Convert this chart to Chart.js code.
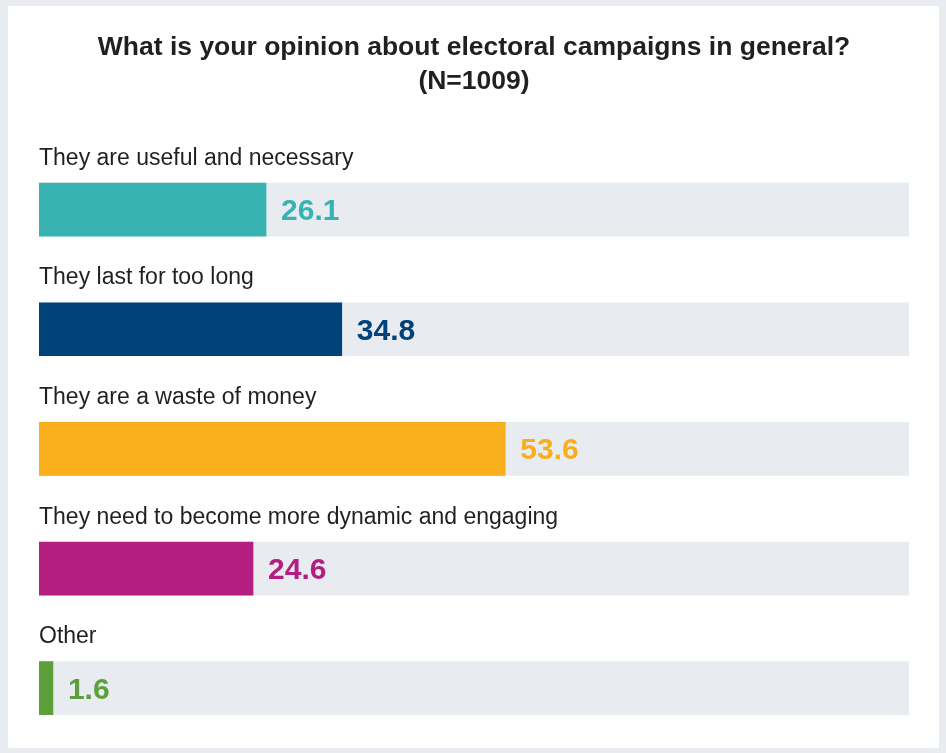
<!DOCTYPE html>
<html>
<head>
<meta charset="utf-8">
<script src="https://cdn.jsdelivr.net/npm/chart.js@4"></script>
<style>
  html, body { margin: 0; padding: 0; }
  body { width: 946px; height: 753px; background: #e8ebef; position: relative; overflow: hidden; }
  #panel { position: absolute; left: 8px; top: 6px; width: 931px; height: 742px; background: #ffffff; }
  #chart { display: block; }
</style>
</head>
<body>
<div id="panel"><canvas id="chart" width="931" height="742"></canvas></div>
<script>
// ---- DATA ----
const categories = [
  'They are useful and necessary',
  'They last for too long',
  'They are a waste of money',
  'They need to become more dynamic and engaging',
  'Other'
];
const values = [26.1, 34.8, 53.6, 24.6, 1.6];
const barColors = ['#38b3b1', '#00427a', '#f9af1b', '#b41e80', '#5c9f3b'];
const trackValues = [100, 100, 100, 100, 100];
const titleLines = ['What is your opinion about electoral campaigns in general?', '(N=1009)'];

const FONT = "'Liberation Sans', Arial, Helvetica, sans-serif";
const TEXT = '#231f20';

// ---- LABELS PLUGIN ----
// category name above each bar, value right after the bar end
const barLabels = {
  id: 'barLabels',
  afterDatasetsDraw(chart) {
    const ctx = chart.ctx;
    const meta = chart.getDatasetMeta(0);
    const left = chart.chartArea.left;
    ctx.save();
    meta.data.forEach((bar, i) => {
      const top = bar.y - bar.height / 2;
      ctx.textAlign = 'left';
      ctx.textBaseline = 'alphabetic';
      ctx.fillStyle = TEXT;
      ctx.font = '23px ' + FONT;
      ctx.fillText(categories[i], left, top - 18.5);

      ctx.fillStyle = barColors[i];
      ctx.font = 'bold 30px ' + FONT;
      ctx.fillText(values[i].toFixed(1), bar.x + 15, bar.y + 10.5);
    });
    ctx.restore();
  }
};

// ---- CHART ----
new Chart(document.getElementById('chart'), {
  type: 'bar',
  data: {
    labels: categories,
    datasets: [
      {
        data: values,
        backgroundColor: barColors,
        barThickness: 53,
        grouped: false,
        order: 1
      },
      {
        data: trackValues,
        backgroundColor: '#e8ebef',
        barThickness: 53,
        grouped: false,
        order: 2
      }
    ]
  },
  options: {
    indexAxis: 'y',
    responsive: false,
    animation: false,
    layout: { padding: { left: 31, right: 30, top: 0, bottom: 0 } },
    plugins: {
      legend: { display: false },
      tooltip: { enabled: false },
      title: {
        display: true,
        text: titleLines,
        color: TEXT,
        font: { family: FONT, size: 26.5, weight: 'bold', lineHeight: 1.28 },
        padding: { top: 25, bottom: 51 }
      }
    },
    scales: {
      x: { display: false, min: 0, max: 100 },
      y: { display: false }
    }
  },
  plugins: [barLabels]
});
</script>
</body>
</html>
